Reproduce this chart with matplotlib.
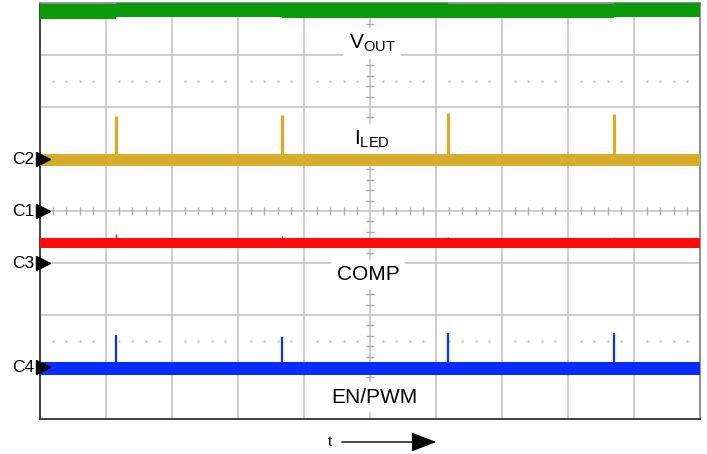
import numpy as np
import matplotlib.pyplot as plt
from matplotlib.patches import FancyArrowPatch

plt.rcParams['font.family'] = ['Liberation Sans', 'DejaVu Sans']
plt.rcParams['mathtext.default'] = 'regular'

# time axis in divisions (10 across), amplitude in divisions (-4..4)
spike_t = [1.15, 3.67, 6.18, 8.70]

# VOUT: clipped at the top, level steps a little at every pulse
vout_edges = [0.0, 1.15, 3.67, 6.18, 8.70, 10.0]
vout_level = [3.84, 3.88, 3.86, 3.85, 3.88]

# ILED: baseline plus the short pulses
iled_base = 0.98
iled_tops = [1.83, 1.85, 1.88, 1.87]

# COMP: flat with tiny bumps
comp_base = -0.62
comp_tops = [-0.44, -0.48, -0.50, -0.50]

# EN/PWM: baseline plus pulses
pwm_base = -3.02
pwm_tops = [-2.38, -2.42, -2.35, -2.35]

channels = ['C2', 'C1', 'C3', 'C4']
ch_offset = [1.0, 0.0, -1.0, -3.0]

green, yellow, red, blue = '#0a9a0a', '#d6ad2b', '#ff0a0a', '#0a2dff'
grid_c = '#c9c9c9'

fig = plt.figure(figsize=(7.07, 4.54), dpi=100)
ax = fig.add_axes([40 / 707, 35 / 454, 660 / 707, 416 / 454])
ax.set_xlim(0, 10)
ax.set_ylim(-4, 4)
ax.set_xticks([])
ax.set_yticks([])

# graticule
for x in range(1, 10):
    ax.axvline(x, color=grid_c, lw=1.3, zorder=1)
for y in range(-3, 4):
    ax.axhline(y, color=grid_c, lw=1.3, zorder=1)

minor_x = [i / 5 for i in range(1, 50) if i % 5]
minor_y = [i / 5 for i in range(-19, 20) if i % 5]
ax.vlines(minor_x, -0.08, 0.08, color='#aaaaaa', lw=1.0, zorder=1)
ax.hlines(minor_y, 4.94, 5.06, color='#aaaaaa', lw=1.0, zorder=1)
for yy in (2.5, -2.5):
    ax.plot(minor_x, [yy] * len(minor_x), ls='none', marker='o', ms=1.6,
            color='#bbbbbb', mec='none', zorder=1)

for s in ('left', 'bottom'):
    ax.spines[s].set_color('#333333')
    ax.spines[s].set_linewidth(1.3)
for s in ('right', 'top'):
    ax.spines[s].set_color('#888888')
    ax.spines[s].set_linewidth(1.3)

# channel labels
txt = dict(fontsize=15, ha='center', va='center', zorder=3,
           bbox=dict(boxstyle='square,pad=0.25', fc='white', ec='none'))
ax.text(5.03, 3.22, r'$V_{OUT}$', **txt)
ax.text(5.03, 1.37, r'$I_{LED}$', **txt)
ax.text(4.97, -1.23, 'COMP', **txt)
ax.text(5.07, -3.58, 'EN/PWM', **txt)

# traces
def band(base, half, color):
    ax.fill_between([0, 10], base - half, base + half, color=color, lw=0, zorder=4)

for i, lvl in enumerate(vout_level):
    ax.fill_between(vout_edges[i:i + 2], lvl - 0.14, min(lvl + 0.14, 4.0),
                    color=green, lw=0, zorder=4)

band(iled_base, 0.115, yellow)
ax.vlines(spike_t, iled_base, iled_tops, color=yellow, lw=2.4, zorder=4)

band(comp_base, 0.1, red)
ax.vlines(spike_t, comp_base, comp_tops, color=red, lw=1.0, zorder=4)

band(pwm_base, 0.125, blue)
ax.vlines(spike_t, pwm_base, pwm_tops, color=blue, lw=1.6, zorder=4)

# channel reference markers
for name, off in zip(channels, ch_offset):
    ax.plot(0.053, off, marker='>', ms=9.5, color='black', clip_on=False, zorder=6)
    ax.text(-0.09, off, name, fontsize=12.5, ha='right', va='center', clip_on=False)

# time arrow under the screen
fig.text(330 / 707, 1 - 442 / 454, 't', fontsize=11, ha='center', va='center')
fig.patches.append(FancyArrowPatch((339 / 707, 1 - 442 / 454), (439 / 707, 1 - 442 / 454),
                                   transform=fig.transFigure, arrowstyle='-|>,head_length=1.3,head_width=0.5',
                                   mutation_scale=12, color='black', lw=1.0))

fig.savefig('out.png', dpi=100)
